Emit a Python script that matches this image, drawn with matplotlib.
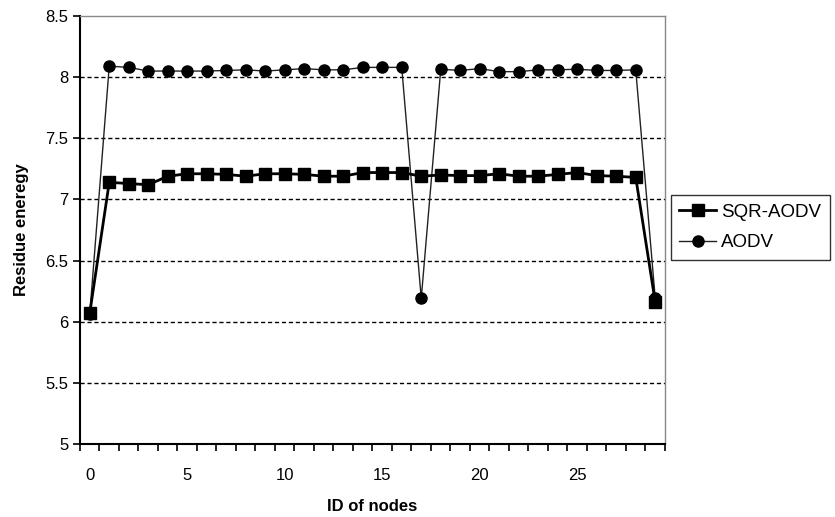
"""Residue energy per node: SQR-AODV vs AODV."""
import numpy as np
import matplotlib; matplotlib.use("Agg")
import matplotlib.pyplot as plt
from matplotlib.ticker import FixedLocator

plt.rcParams["font.family"] = ["Liberation Sans", "DejaVu Sans"]

node_ids = list(range(30))
sqr_aodv = [6.07, 7.14, 7.13, 7.12, 7.19, 7.21, 7.21, 7.205, 7.19, 7.21,
            7.21, 7.205, 7.19, 7.19, 7.22, 7.22, 7.22, 7.19, 7.20, 7.195,
            7.195, 7.21, 7.19, 7.19, 7.205, 7.22, 7.195, 7.19, 7.18, 6.16]
aodv = [6.06, 8.09, 8.08, 8.05, 8.05, 8.05, 8.05, 8.055, 8.06, 8.05,
        8.06, 8.07, 8.06, 8.06, 8.08, 8.08, 8.08, 6.19, 8.065, 8.055,
        8.07, 8.045, 8.045, 8.06, 8.06, 8.065, 8.055, 8.055, 8.06, 6.19]
y_ticks = [5, 5.5, 6, 6.5, 7, 7.5, 8, 8.5]
y_tick_labels = ["5", "5.5", "6", "6.5", "7", "7.5", "8", "8.5"]

fig = plt.figure(figsize=(8.35, 5.17), dpi=100)
ax = fig.add_axes([0.0958, 0.1412, 0.7006, 0.8278])

ax.plot(node_ids, aodv, color="#222222", lw=1.0, marker="o", ms=8,
        mfc="black", mec="black", label="AODV", zorder=3)
ax.plot(node_ids, sqr_aodv, color="black", lw=2.0, marker="s", ms=8,
        mfc="black", mec="black", label="SQR-AODV", zorder=4)

ax.set_xlim(-0.5, 29.5)
ax.set_ylim(5, 8.5)
ax.set_yticks(y_ticks)
ax.set_yticklabels(y_tick_labels)
ax.xaxis.set_major_locator(FixedLocator([0, 5, 10, 15, 20, 25]))
ax.xaxis.set_minor_locator(FixedLocator(np.arange(-0.5, 30, 1.0)))
ax.tick_params(axis="x", which="major", length=0, pad=17, labelsize=12)
ax.tick_params(axis="x", which="minor", length=5, direction="out", width=1.2)
ax.tick_params(axis="y", length=5, direction="out", width=1.2, labelsize=12)

for v in y_ticks[1:-1]:
    ax.axhline(v, color="black", lw=1.0, ls=(0, (3, 2)), zorder=1)

for s in ["left", "bottom"]:
    ax.spines[s].set_color("black"); ax.spines[s].set_linewidth(1.5)
for s in ["top", "right"]:
    ax.spines[s].set_color("#888888"); ax.spines[s].set_linewidth(1.0)

ax.set_xlabel("ID of nodes", fontsize=12, fontweight="bold", labelpad=12)
ax.set_ylabel("Residue eneregy", fontsize=12, fontweight="bold", labelpad=12)

h, l = ax.get_legend_handles_labels()
leg = fig.legend(h[::-1], l[::-1], loc="upper left", bbox_to_anchor=(0.803, 0.622),
                 fontsize=13.5, frameon=True, fancybox=False, edgecolor="black",
                 handlelength=2.0, borderpad=0.45, labelspacing=0.7, handletextpad=0.25,
                 borderaxespad=0)
leg.get_frame().set_linewidth(1.0)

fig.savefig("out.png", dpi=100)
